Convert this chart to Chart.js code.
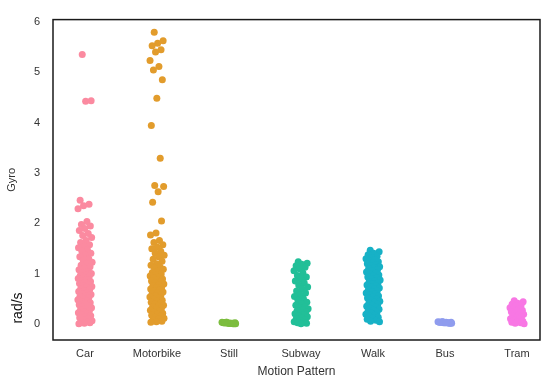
<!DOCTYPE html>
<html>
<head>
<meta charset="utf-8">
<script src="https://cdn.jsdelivr.net/npm/chart.js@4/dist/chart.umd.min.js"></script>
<style>
  html, body { margin: 0; padding: 0; background: #fff; }
  #wrap { width: 550px; height: 379px; }
</style>
</head>
<body>
<div id="wrap"><canvas id="c" width="550" height="379"></canvas></div>
<script>
const categories = ["Car", "Motorbike", "Still", "Subway", "Walk", "Bus", "Tram"];
const yTicks = [0, 1, 2, 3, 4, 5, 6];
const colors = ["#fb8aa0", "#e29c2c", "#7cbd3e", "#22bf98", "#17b1c6", "#8f9cee", "#f877e4"];

const carGyro = [5.35, 4.43, 4.42, 2.46, 2.38, 2.35, 2.29, 2.04, 1.98, 1.95, 1.9, 1.86, 1.8, 1.76, 1.72, 1.66, 1.62, 1.58, 1.55, 1.52, 1.48, 1.45, 1.41, 1.37, 1.34, 1.3, 1.27, 1.23, 1.2, 1.17, 1.14, 1.11, 1.08, 1.05, 1.03, 1.01, 0.99, 0.97, 0.95, 0.93, 0.91, 0.89, 0.87, 0.85, 0.83, 0.81, 0.79, 0.77, 0.75, 0.73, 0.71, 0.69, 0.67, 0.65, 0.63, 0.61, 0.59, 0.57, 0.55, 0.53, 0.51, 0.49, 0.47, 0.45, 0.43, 0.41, 0.39, 0.37, 0.35, 0.33, 0.31, 0.29, 0.27, 0.25, 0.23, 0.21, 0.19, 0.17, 0.15, 0.13, 0.11, 0.09, 0.07, 0.05, 0.04, 0.03, 0.02, 0.01];
const motorbikeGyro = [5.79, 5.62, 5.57, 5.52, 5.44, 5.40, 5.23, 5.11, 5.04, 4.85, 4.48, 3.94, 3.29, 2.75, 2.73, 2.63, 2.42, 2.05, 1.81, 1.77, 1.66, 1.62, 1.58, 1.53, 1.5, 1.45, 1.41, 1.37, 1.34, 1.29, 1.25, 1.2, 1.17, 1.14, 1.12, 1.09, 1.06, 1.03, 1.0, 0.98, 0.96, 0.94, 0.92, 0.9, 0.88, 0.86, 0.84, 0.82, 0.8, 0.78, 0.76, 0.74, 0.72, 0.7, 0.68, 0.66, 0.64, 0.62, 0.6, 0.58, 0.56, 0.54, 0.52, 0.5, 0.48, 0.46, 0.44, 0.42, 0.4, 0.38, 0.36, 0.34, 0.32, 0.3, 0.28, 0.26, 0.24, 0.22, 0.2, 0.18, 0.16, 0.14, 0.12, 0.1, 0.08, 0.06, 0.05, 0.04];
const stillGyro = [0.04, 0.03, 0.02, 0.03, 0.01, 0.02, 0.04, 0.02, 0.03, 0.01, 0.02, 0.03, 0.02, 0.04, 0.01, 0.02, 0.03, 0.02];
const subwayGyro = [1.24, 1.21, 1.19, 1.16, 1.13, 1.1, 1.06, 1.02, 0.97, 0.94, 0.9, 0.86, 0.82, 0.78, 0.74, 0.7, 0.66, 0.62, 0.58, 0.55, 0.51, 0.48, 0.44, 0.41, 0.38, 0.35, 0.33, 0.31, 0.29, 0.27, 0.25, 0.23, 0.21, 0.19, 0.17, 0.15, 0.13, 0.11, 0.09, 0.07, 0.05, 0.04, 0.03, 0.02, 0.01];
const walkGyro = [1.47, 1.44, 1.41, 1.38, 1.35, 1.32, 1.3, 1.28, 1.26, 1.24, 1.22, 1.2, 1.18, 1.16, 1.14, 1.12, 1.1, 1.08, 1.06, 1.04, 1.02, 1.0, 0.98, 0.96, 0.94, 0.92, 0.9, 0.88, 0.86, 0.84, 0.82, 0.8, 0.78, 0.76, 0.74, 0.72, 0.7, 0.68, 0.66, 0.64, 0.62, 0.6, 0.58, 0.56, 0.54, 0.52, 0.5, 0.48, 0.46, 0.44, 0.42, 0.4, 0.38, 0.36, 0.34, 0.32, 0.3, 0.28, 0.26, 0.24, 0.22, 0.2, 0.18, 0.16, 0.14, 0.12, 0.1, 0.08, 0.06, 0.05];
const busGyro = [0.05, 0.04, 0.03, 0.04, 0.02, 0.03, 0.05, 0.03, 0.04, 0.02, 0.03, 0.04, 0.03, 0.05, 0.02, 0.04];
const tramGyro = [0.47, 0.45, 0.42, 0.4, 0.38, 0.36, 0.33, 0.31, 0.3, 0.28, 0.26, 0.25, 0.23, 0.21, 0.2, 0.18, 0.16, 0.15, 0.13, 0.11, 0.1, 0.08, 0.06, 0.05, 0.04, 0.03, 0.02, 0.01];

const seriesValues = [carGyro, motorbikeGyro, stillGyro, subwayGyro, walkGyro, busGyro, tramGyro];

// deterministic strip jitter (display spread only)
const JIT = 0.1;
function jitter(k) { const f = (k * 0.6180339887 + 0.31) % 1; return (f - 0.5) * 2 * JIT; }

const datasets = seriesValues.map((vals, ci) => ({
  label: categories[ci],
  data: vals.map((v, k) => ({ x: ci + jitter(k), y: v })),
  backgroundColor: colors[ci],
  pointRadius: 3.5,
  pointBorderWidth: 0,
  pointHoverRadius: 3.5
}));

const framePlugin = {
  id: 'frame',
  afterDraw(chart) {
    const { ctx, chartArea: a } = chart;
    ctx.save();
    ctx.strokeStyle = '#1a1a1a';
    ctx.lineWidth = 1.5;
    ctx.strokeRect(a.left, a.top, a.right - a.left, a.bottom - a.top);
    ctx.translate(18, 308);
    ctx.rotate(-Math.PI / 2);
    ctx.fillStyle = '#111';
    ctx.font = '14px "Liberation Sans", Arial, sans-serif';
    ctx.textAlign = 'center';
    ctx.textBaseline = 'middle';
    ctx.fillText('rad/s', 0, 0);
    ctx.restore();
  }
};

new Chart(document.getElementById('c'), {
  type: 'scatter',
  data: { datasets },
  options: {
    responsive: false,
    animation: false,
    layout: { padding: { left: 0, top: 10, right: 10, bottom: 0 } },
    plugins: { legend: { display: false }, tooltip: { enabled: false } },
    scales: {
      x: {
        type: 'linear',
        min: -0.444,
        max: 6.32,
        grid: { display: false, drawTicks: false },
        border: { display: false },
        afterBuildTicks: (s) => { s.ticks = categories.map((c, i) => ({ value: i })); },
        afterFit: (s) => { s.height = 39; },
        ticks: {
          padding: 7,
          color: '#333',
          font: { family: '"Liberation Sans", Arial, sans-serif', size: 11 },
          callback: (v) => categories[Math.round(v)] ?? ''
        },
        title: {
          display: true,
          text: 'Motion Pattern',
          color: '#333',
          padding: { top: 0, bottom: 0 },
          font: { family: '"Liberation Sans", Arial, sans-serif', size: 12 }
        }
      },
      y: {
        min: -0.31,
        max: 6.04,
        grid: { display: false, drawTicks: false },
        border: { display: false },
        afterBuildTicks: (s) => { s.ticks = yTicks.map(v => ({ value: v })); },
        afterFit: (s) => { s.width = 53; },
        ticks: {
          padding: 13,
          color: '#333',
          font: { family: '"Liberation Sans", Arial, sans-serif', size: 11 },
          callback: (v) => String(v)
        },
        title: {
          display: true,
          text: 'Gyro',
          color: '#333',
          padding: { top: 5, bottom: 0 },
          font: { family: '"Liberation Sans", Arial, sans-serif', size: 11 }
        }
      }
    }
  },
  plugins: [framePlugin]
});
</script>
</body>
</html>
